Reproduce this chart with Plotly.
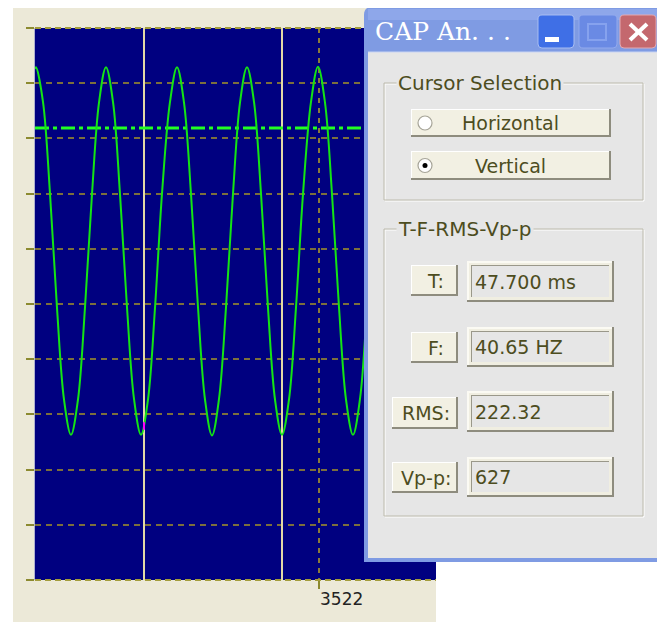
import plotly.graph_objects as go

# ---------------- data ----------------
sample_idx = [3238,
    3239, 3246, 3253, 3260, 3267, 3274, 3281, 3288, 3295, 3302,
    3309, 3316, 3323, 3330, 3337, 3344, 3351, 3358, 3365, 3373,
    3380, 3387, 3394, 3401, 3408, 3415, 3422, 3429, 3436, 3443,
    3450, 3457, 3464, 3471, 3478, 3485, 3492, 3499, 3506, 3514,
    3521, 3528, 3535, 3542, 3549, 3556, 3563, 3570, 3577, 3584,
    3591, 3598, 3605, 3612, 3619, 3626, 3633, 3639]
signal = [926,
    929, 866, 700, 493, 327, 263, 327, 494, 699, 865,
    929, 866, 699, 494, 328, 263, 327, 493, 700, 866,
    929, 865, 699, 494, 327, 262, 328, 494, 700, 865,
    929, 866, 700, 493, 327, 263, 327, 494, 699, 866,
    930, 865, 699, 494, 327, 263, 328, 494, 700, 866,
    929, 866, 700, 494, 327, 263, 327, 494]
cursor_positions = [3347, 3485]
h_cursor_level = 819
marker_seg_x = [3347, 3347]
marker_seg_y = [272, 286]
x_range = [3238, 3639]
y_range = [0, 1000]
x_tick_vals = [3522]
x_tick_text = ["3522"]
y_grid_vals = [0, 100, 200, 300, 400, 500, 600, 700, 800, 900, 1000]

dialog_title = "CAP An. . ."
group1_title = "Cursor Selection"
radio_labels = ["Horizontal", "Vertical"]
radio_selected = [False, True]
group2_title = "T-F-RMS-Vp-p"
meas_labels = ["T:", "F:", "RMS:", "Vp-p:"]
meas_values = ["47.700 ms", "40.65 HZ", "222.32", "627"]

# ---------------- geometry helpers ----------------
# page body has an 8px margin, so the figure starts at screen (8, 8)
OFF = 8
SW, SH = 665, 622                 # screen size
W, H = SW - OFF, SH - OFF         # figure size
L, R, T, B = 35, 436, 28, 580     # plot area in screen pixels


def px(x):
    return (x - L) / (R - L)


def py(y):
    return (B - y) / (B - T)


shapes = []
annotations = []
TXT = "#4d4d1e"
BODY = "#e6e6e6"
SANS = "DejaVu Sans"


def rect(x0, y0, x1, y1, fill, line=None, lw=0, layer="above", dash=None):
    ln = dict(width=lw, color=line if line else fill)
    if dash:
        ln["dash"] = dash
    shapes.append(dict(type="rect", xref="paper", yref="paper",
                       x0=px(x0), x1=px(x1), y0=py(y1), y1=py(y0),
                       fillcolor=fill, line=ln, layer=layer))


def line(x0, y0, x1, y1, color, lw=1, dash=None, layer="above"):
    ln = dict(width=lw, color=color)
    if dash:
        ln["dash"] = dash
    shapes.append(dict(type="line", xref="paper", yref="paper",
                       x0=px(x0), x1=px(x1), y0=py(y0), y1=py(y1),
                       line=ln, layer=layer))


def circle(cx, cy, r, fill, lc=None, lw=0):
    shapes.append(dict(type="circle", xref="paper", yref="paper",
                       x0=px(cx - r), x1=px(cx + r), y0=py(cy + r), y1=py(cy - r),
                       fillcolor=fill, line=dict(width=lw, color=lc if lc else fill),
                       layer="above"))


def rrect(x0, y0, x1, y1, r, fill, lc=None, lw=0, bottom_round=True):
    def p(x, y):
        return f"{px(x):.6f},{py(y):.6f}"
    rb = r if bottom_round else 0
    d = (f"M {p(x0 + r, y0)} L {p(x1 - r, y0)} Q {p(x1, y0)} {p(x1, y0 + r)} "
         f"L {p(x1, y1 - rb)} Q {p(x1, y1)} {p(x1 - rb, y1)} "
         f"L {p(x0 + rb, y1)} Q {p(x0, y1)} {p(x0, y1 - rb)} "
         f"L {p(x0, y0 + r)} Q {p(x0, y0)} {p(x0 + r, y0)} Z")
    shapes.append(dict(type="path", xref="paper", yref="paper", path=d,
                       fillcolor=fill, line=dict(width=lw, color=lc if lc else fill),
                       layer="above"))


def text(x, y, s, size=19, color=TXT, xanchor="left", family=SANS, bg=None):
    a = dict(xref="paper", yref="paper", x=px(x), y=py(y), text=s,
             showarrow=False, xanchor=xanchor, yanchor="middle",
             font=dict(family=family, size=size, color=color))
    if bg:
        a["bgcolor"] = bg
        a["borderpad"] = 1
    annotations.append(a)


def button(x0, y0, x1, y1):
    rect(x0, y0, x1, y1, "#8e8c7e")
    rect(x0, y0, x1 - 2, y1 - 2, "#ffffff")
    rect(x0 + 1, y0 + 1, x1 - 2, y1 - 2, "#f2f0e3")


def textbox(x0, y0, x1, y1):
    rect(x0, y0, x1, y1, "#8e8c7e")
    rect(x0, y0, x1 - 2, y1 - 2, "#fbfaf3")
    rect(x0 + 2, y0 + 2, x1 - 2, y1 - 2, "#f0eee1")
    rect(x0 + 4, y0 + 4, x1 - 5, y1 - 5, "#9a988a")
    rect(x0 + 5, y0 + 5, x1 - 5, y1 - 5, BODY)


def groupbox(x0, y0, x1, y1, title):
    rect(x0 + 1, y0 + 1, x1 + 1, y1 + 1, "rgba(0,0,0,0)", "#ffffff", 1)
    rect(x0, y0, x1, y1, "rgba(0,0,0,0)", "#bdbbad", 1)
    text(x0 + 12, y0, title, size=20, bg=BODY)


# ---------------- background panel ----------------
rect(13, 5, 436, 622, "#ece9d8", layer="below")
rect(L, T, R, B, "#000080", layer="below")

# plot frame top / bottom dashed borders
line(L, T, R, T, "#a39c3c", 2, dash="6px,4px")
line(L, B, R, B, "#a39c3c", 2, dash="6px,4px")
line(530, 9, 557, 9, "#303030", 2)

# ---------------- dialog window ----------------
rrect(364, 7, 661, 562, 8, "#7f9be3", bottom_round=False)
rect(368, 9, 657, 20, "#8ea7ea")
rect(368, 52, 657, 558, BODY)
line(368, 52, 657, 52, "#c9d4f3", 1)
text(373, 31, dialog_title, size=25, color="#ffffff", family="DejaVu Serif")

# title bar buttons
rrect(538, 15, 574, 48, 4, "#3f6fe6", "#a9bef2", 1)
rect(545, 37, 559, 42, "#ffffff")
rrect(579, 15, 617, 48, 4, "#6a8ae4", "#93aaee", 1)
rect(588, 24, 606, 40, "rgba(0,0,0,0)", "#86a2ee", 2)
rrect(620, 15, 656, 48, 4, "#c4686e", "#e4aab2", 1)
line(630, 24, 647, 40, "#ffffff", 4)
line(630, 40, 647, 24, "#ffffff", 4)

# group 1 : cursor selection
groupbox(384, 83, 643, 200, group1_title)
radio_rows = [(109, 137), (151, 180)]
for (y0, y1), lab, sel in zip(radio_rows, radio_labels, radio_selected):
    button(411, y0, 611, y1)
    cy = (y0 + y1) / 2
    circle(425, cy, 7, "#ffffff", "#a6a498", 1.2)
    if sel:
        circle(425, cy, 2.5, "#000000")
    text(510, cy, lab, size=19, xanchor="center")

# group 2 : T-F-RMS-Vp-p
groupbox(384, 229, 643, 516, group2_title)
btn_x0 = [411, 411, 392, 392]
btn_rows = [(265, 296), (332, 363), (397, 429), (462, 493)]
box_rows = [(261, 302), (327, 367), (391, 432), (457, 497)]
for bx0, (by0, by1), (ty0, ty1), lab, val in zip(btn_x0, btn_rows, box_rows,
                                                   meas_labels, meas_values):
    button(bx0, by0, 458, by1)
    text((bx0 + 458) / 2 + 1, (by0 + by1) / 2, lab, size=19, xanchor="center")
    textbox(467, ty0, 614, ty1)
    text(473, (ty0 + ty1) / 2, val, size=19)

# ---------------- traces ----------------
fig = go.Figure()
for cx in cursor_positions:
    fig.add_trace(go.Scatter(x=[cx, cx], y=y_range, mode="lines",
                             line=dict(color="#e2d9a6", width=2),
                             hoverinfo="skip", showlegend=False))
fig.add_trace(go.Scatter(x=x_range, y=[h_cursor_level, h_cursor_level], mode="lines",
                         line=dict(color="#22ff22", width=3, dash="14px,4px,4px,4px"),
                         hoverinfo="skip", showlegend=False))
fig.add_trace(go.Scatter(x=sample_idx, y=signal, mode="lines",
                         line=dict(color="#14e414", width=2, shape="spline", smoothing=1.0),
                         hoverinfo="skip", showlegend=False))
fig.add_trace(go.Scatter(x=marker_seg_x, y=marker_seg_y, mode="lines",
                         line=dict(color="#ff00ff", width=2),
                         hoverinfo="skip", showlegend=False))

fig.update_layout(
    width=W, height=H, autosize=False,
    margin=dict(l=L - OFF, r=SW - R, t=T - OFF, b=SH - B, pad=0),
    paper_bgcolor="#ffffff", plot_bgcolor="#000080",
    shapes=shapes, annotations=annotations, showlegend=False,
    xaxis=dict(range=x_range, tickmode="array", tickvals=x_tick_vals, ticktext=x_tick_text,
               ticks="outside", ticklen=8, tickwidth=2, tickcolor="#8c8a30",
               ticklabelposition="outside right", ticklabelstandoff=4,
               tickfont=dict(family=SANS, size=17, color="#222222"),
               showgrid=True, gridcolor="#8a7a3a", gridwidth=2, griddash="5px,5px",
               zeroline=False, showline=False, automargin=False, fixedrange=True),
    yaxis=dict(range=y_range, tickmode="array", tickvals=y_grid_vals,
               showticklabels=False, ticks="outside", ticklen=8, tickwidth=2,
               tickcolor="#8c8a30",
               showgrid=True, gridcolor="#7c6f3c", gridwidth=2, griddash="6px,5px",
               zeroline=False, showline=True, linecolor="#aeb0d0", linewidth=1,
               automargin=False, fixedrange=True),
)

fig.write_html("out.html")
